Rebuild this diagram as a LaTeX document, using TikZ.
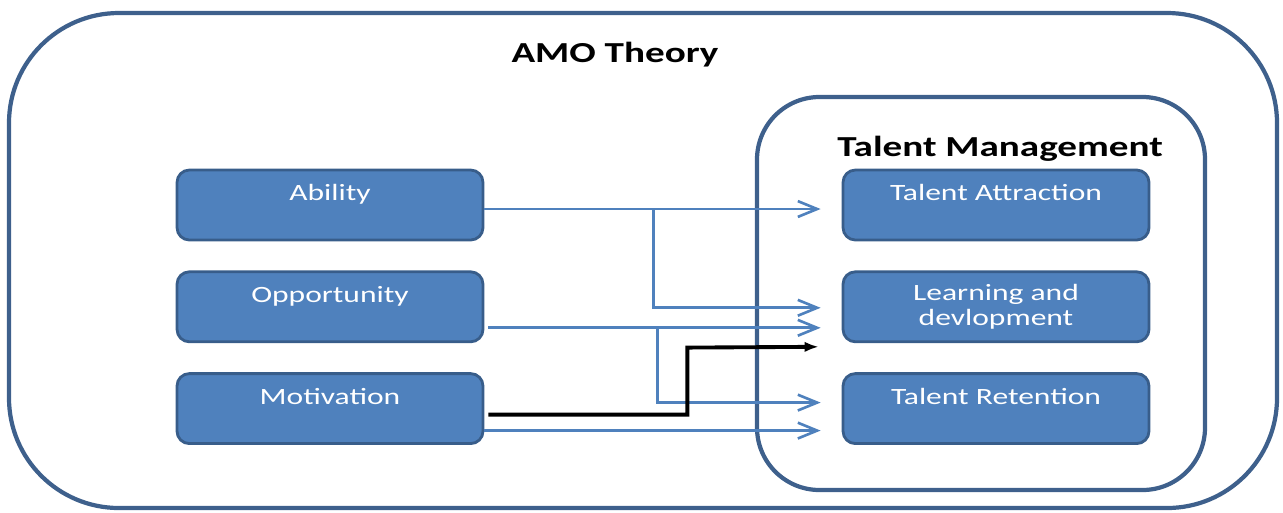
\documentclass[tikz,border=0pt]{standalone}
\usepackage{fontspec}
\setmainfont{Carlito}[FakeStretch=1.35]
\usetikzlibrary{positioning,arrows.meta,calc}
\definecolor{boxfill}{RGB}{79,129,189}
\definecolor{boxline}{RGB}{56,93,138}
\definecolor{frameline}{RGB}{62,96,140}
\definecolor{linkblue}{RGB}{79,129,189}
\begin{document}
\begin{tikzpicture}[
  x=0.02cm, y=-0.02cm,
  font=\fontsize{13.3}{14.7}\selectfont,
  box/.style={draw=boxline, line width=1.6pt, fill=boxfill, rounded corners=7pt,
    minimum width=6.12cm, minimum height=1.4cm, text=white, align=center, inner sep=0pt},
  frame/.style={draw=frameline, line width=2.4pt},
  ttl/.style={font=\fontsize{16.5}{19}\selectfont\bfseries},
  arr/.style={-{Straight Barb[length=11pt, width=9pt]}, linkblue, line width=1.5pt},
  karr/.style={-{Latex[length=8pt, width=6pt]}, black, line width=2.2pt},
]
\useasboundingbox (0,0) rectangle (1283,512);
% frames
\draw[frame, rounded corners=2.2cm] (9,13) rectangle (1277,508);
\draw[frame, rounded corners=1.25cm] (757,97) rectangle (1205,490);
\node[ttl] (amo) at (615,55) {AMO Theory};
\node[ttl] (tm) at (1000,149) {Talent Management};
% AMO boxes
\node[box] (ability) at (330,205) {Ability\\[-5pt]\strut};
\node[box, below=0.58cm of ability] (opp) {Opportunity\\[-5pt]\strut};
\node[box, below=0.58cm of opp] (motiv) {Motivation\\[-5pt]\strut};
% talent management boxes
\node[box] (attract) at (996,205) {Talent Attraction\\[-5pt]\strut};
\node[box, below=0.58cm of attract] (learn) {Learning and\\devlopment};
\node[box, below=0.58cm of learn] (retain) {Talent Retention\\[-5pt]\strut};
% links
\draw[arr] ($(ability.east)+(0,4)$) -- ($(attract.west)+(-21,4)$);
\draw[arr] ($(ability.east)+(169,4)$) |- ($(learn.west)+(-21,1)$);
\draw[arr] ($(opp.east)+(4,21)$) -- ($(learn.west)+(-21,21)$);
\draw[arr] ($(opp.east)+(173,21)$) |- ($(retain.west)+(-21,-6)$);
\draw[karr] ($(motiv.east)+(4,6)$) -| ($(motiv.east)+(203,-61)$) -- ($(learn.west)+(-23,40)$);
\draw[arr] ($(motiv.east)+(0,22)$) -- ($(retain.west)+(-21,22)$);
\end{tikzpicture}
\end{document}
